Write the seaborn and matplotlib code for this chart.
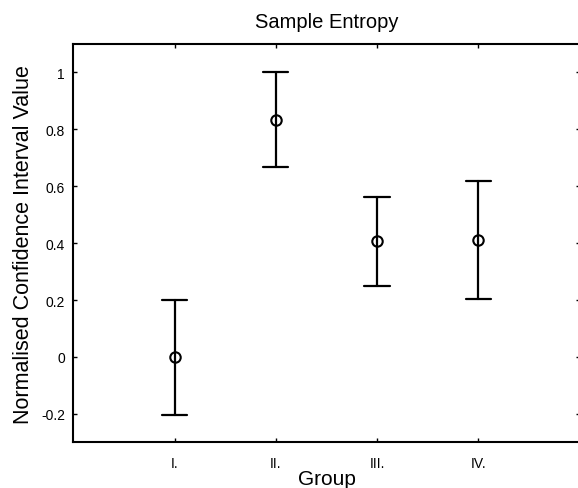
import pandas as pd
import matplotlib
matplotlib.use("Agg")
import matplotlib.pyplot as plt
import seaborn as sns

# ================= DATA =================
groups = ["I.", "II.", "III.", "IV."]
lower = [-0.205, 0.668, 0.248, 0.204]
centre = [0.0, 0.834, 0.406, 0.41]
upper = [0.2, 1.0, 0.561, 0.618]
yticks = [-0.2, 0, 0.2, 0.4, 0.6, 0.8, 1]
ytick_labels = ["-0.2", "0", "0.2", "0.4", "0.6", "0.8", "1"]

# long table: lower / centre / upper per group -> median + full range
rows = []
for g, lo, c, up in zip(groups, lower, centre, upper):
    for v in (lo, c, up):
        rows.append({"group": g, "value": v})
df = pd.DataFrame(rows)

# ================= PLOT =================
sns.set_style("ticks", {"text.color": "black", "axes.labelcolor": "black",
                        "xtick.color": "black", "ytick.color": "black",
                        "axes.edgecolor": "black"})
plt.rcParams["font.family"] = ["Liberation Sans", "DejaVu Sans"]

fig = plt.figure(figsize=(5.78, 4.89), dpi=100)
ax = fig.add_axes([0.1268, 0.0935, 0.876, 0.8145])

sns.pointplot(
    data=df, x="group", y="value", order=groups,
    estimator="median", errorbar=("pi", 100),
    capsize=0.25, color="black", linestyle="none",
    marker="o", markersize=7.5, markerfacecolor="none", markeredgewidth=1.5,
    err_kws={"linewidth": 1.6}, ax=ax,
)

ax.set_xlim(-1, 4)
ax.set_ylim(-0.3, 1.1)
ax.set_yticks(yticks)
ax.set_yticklabels(ytick_labels)
ax.tick_params(direction="in", top=True, right=True, length=3, width=1,
               labelsize=10, colors="black")
ax.tick_params(axis="x", pad=10)
ax.tick_params(axis="y", pad=6)
for s in ax.spines.values():
    s.set_linewidth(1.5)
    s.set_color("black")

ax.set_title("Sample Entropy", fontsize=14.5, pad=12, color="black")
ax.set_xlabel("Group", fontsize=15, labelpad=-1, color="black")
ax.set_ylabel("Normalised Confidence Interval Value", fontsize=15.5, labelpad=5,
              color="black")

fig.savefig("out.png", dpi=100)
